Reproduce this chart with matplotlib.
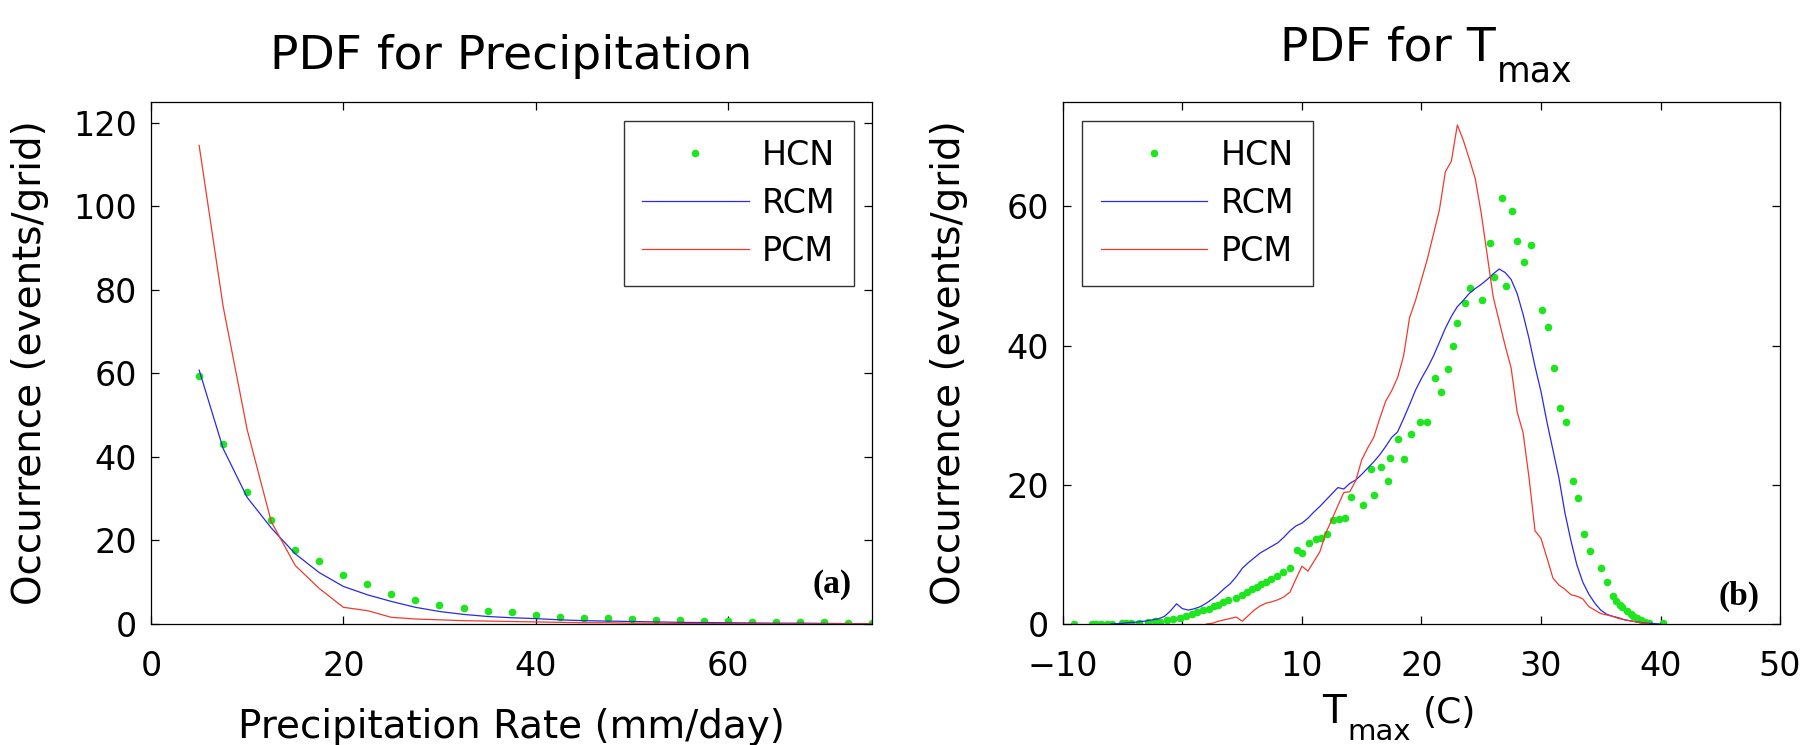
import matplotlib
matplotlib.use('Agg')
import matplotlib.pyplot as plt

# panel (a): precipitation
precip_rate = [5, 7.5, 10, 12.5, 15, 17.5, 20, 22.5, 25, 27.5, 30, 32.5, 35, 37.5, 40,
               42.5, 45, 47.5, 50, 52.5, 55, 57.5, 60, 62.5, 65, 67.5, 70, 72.5, 75]
precip_hcn = [59.5, 43.2, 31.6, 24.9, 17.8, 15.2, 11.7, 9.7, 7.3, 5.8, 4.5, 3.9, 3.2, 2.8, 2.2,
              1.7, 1.5, 1.4, 1.2, 1.0, 0.9, 0.8, 0.7, 0.6, 0.5, 0.5, 0.4, 0.3, 0.3]
precip_rcm = [60.8, 42.0, 30.3, 23.0, 16.8, 12.3, 9.0, 7.0, 5.4, 4.0, 3.0, 2.3, 1.8, 1.5, 1.3,
              1.0, 0.8, 0.7, 0.6, 0.5, 0.4, 0.35, 0.3, 0.25, 0.2, 0.2, 0.15, 0.1, 0.1]
precip_pcm = [114.6, 76.0, 46.5, 24.5, 14.0, 8.5, 4.0, 3.2, 1.6, 1.2, 1.0, 0.8, 0.7, 0.6, 0.5,
              0.4, 0.3, 0.3, 0.2, 0.2, 0.15, 0.1, 0.1, 0.1, 0.05, 0.05, 0.05, 0.05, 0.05]

# panel (b): Tmax
tmax_hcn_x = [-9.1, -7.6, -7.2, -6.8, -6.3, -5.9, -5.1, -4.7, -4.3, -3.6, -2.9, -2.3, -1.9,
              -1.3, -0.8, -0.2, 0.3, 0.8, 1.2, 1.7, 2.2, 2.6, 3.0, 3.4, 3.8, 4.5, 5.0, 5.4,
              5.8, 6.2, 6.6, 7.0, 7.4, 7.9, 8.4, 9.0, 9.6, 10.0, 10.6, 11.2, 11.6, 12.1, 12.6,
              13.1, 13.6, 14.1, 15.1, 15.8, 16.0, 16.6, 17.2, 17.4, 18.0, 18.5, 19.1, 19.9,
              20.5, 21.1, 21.6, 22.2, 22.6, 23.0, 23.6, 24.1, 25.1, 25.7, 26.1, 26.7, 27.1,
              27.6, 28.0, 28.6, 29.2, 30.1, 30.6, 31.1, 31.6, 32.1, 32.7, 33.1, 33.6, 34.1,
              35.0, 35.5, 36.0, 36.3, 36.6, 36.8, 37.2, 37.5, 37.7, 38.0, 38.4, 38.7, 39.0, 40.2]
tmax_hcn = [0.0, 0.0, 0.0, 0.0, 0.0, 0.0, 0.1, 0.1, 0.15, 0.15, 0.3, 0.4, 0.3,
            0.6, 0.7, 0.9, 1.1, 1.4, 1.7, 2.0, 2.2, 2.6, 2.8, 3.2, 3.5, 3.8, 4.2, 4.6,
            5.0, 5.3, 5.7, 6.1, 6.4, 6.9, 7.5, 8.1, 10.6, 10.2, 11.6, 12.2, 12.4, 12.9, 14.9,
            15.1, 15.3, 18.3, 17.1, 22.2, 18.5, 22.5, 20.5, 23.9, 26.6, 23.7, 27.3, 29.0,
            29.0, 35.4, 33.4, 36.6, 40.0, 43.3, 46.1, 48.3, 46.6, 54.7, 49.8, 61.2, 48.6,
            59.3, 55.1, 52.0, 54.4, 45.1, 42.7, 36.8, 31.1, 29.0, 20.5, 18.1, 12.9, 10.5,
            8.1, 6.0, 4.0, 3.3, 2.8, 2.5, 1.8, 1.4, 1.2, 0.9, 0.6, 0.3, 0.1, 0.1]

tmax_rcm_x = [-6, -5.5, -5, -4.5, -4, -3.5, -3, -2.5, -2, -1.5, -1, -0.5, 0, 0.5, 1, 1.5,
              2, 2.5, 3, 3.5, 4, 4.5, 5, 5.5, 6, 6.5, 7, 7.5, 8, 8.5, 9, 9.5, 10, 10.5,
              11, 11.5, 12, 12.5, 13, 13.5, 14, 14.5, 15, 15.5, 16, 16.5, 17, 17.5, 18, 18.5,
              19, 19.5, 20, 20.5, 21, 21.5, 22, 22.5, 23, 23.5, 24, 24.5, 25, 25.5, 26, 26.5,
              27, 27.5, 28, 28.5, 29, 29.5, 30, 30.5, 31, 31.5, 32, 32.5, 33, 33.5, 34, 34.5,
              35, 35.5, 36, 36.5, 37, 37.5, 38, 38.5, 39, 39.5, 40]
tmax_rcm = [0, 0.05, 0.1, 0.2, 0.25, 0.35, 0.45, 0.6, 0.75, 1.1, 1.9, 2.9, 2.2, 2.0, 2.2, 2.5,
            3.0, 3.6, 4.3, 5.1, 5.8, 6.8, 8.0, 8.8, 9.5, 10.2, 10.7, 11.2, 11.7, 12.5, 13.4, 14.1,
            14.5, 15.2, 16.1, 16.9, 17.8, 18.7, 19.6, 19.4, 20.2, 20.7, 21.5, 22.4, 23.3, 24.3,
            25.5, 26.8, 27.6, 29.5, 31.5, 33.6, 35.3, 36.8, 38.5, 40.5, 42.5, 44.2, 45.6, 46.5,
            47.5, 48.2, 48.8, 49.5, 50.3, 51.0, 50.5, 49.5, 47.5, 44.5, 41.0, 37.0, 33.4, 29.0,
            25.0, 21.0, 16.0, 12.0, 8.5, 6.0, 4.3, 3.0, 2.0, 1.4, 1.1, 0.9, 0.6, 0.45, 0.3, 0.2,
            0.1, 0.05, 0]

tmax_pcm_x = [2, 2.5, 3, 3.5, 4, 4.5, 5, 5.5, 6, 6.5, 7, 7.5, 8, 8.5, 9, 9.5, 10, 10.5,
              11, 11.5, 12, 12.5, 13, 13.5, 14, 14.5, 15, 15.5, 16, 16.5, 17, 17.5, 18, 18.5,
              19, 19.5, 20, 20.5, 21, 21.5, 22, 22.5, 23, 23.5, 24, 24.5, 25, 25.5, 26, 26.5,
              27, 27.5, 28, 28.5, 29, 29.5, 30, 30.5, 31, 31.5, 32, 32.5, 33, 33.5, 34, 34.5,
              35, 35.5, 36, 36.5, 37, 37.5, 38, 38.5, 39]
tmax_pcm = [0, 0.1, 0.4, 0.6, 0.8, 1.0, 0.4, 1.2, 2.0, 2.6, 3.0, 3.2, 3.5, 3.9, 4.6, 6.5, 8.3, 7.6,
            9.0, 10.4, 13.1, 15.0, 17.0, 18.9, 19.0, 20.6, 23.6, 25.3, 26.8, 29.5, 32.0, 33.5,
            35.4, 38.5, 44.0, 46.5, 49.5, 52.5, 56.0, 59.5, 65.0, 66.5, 71.7, 69.5, 66.8, 64.0,
            59.0, 53.0, 47.0, 43.5, 40.0, 36.8, 30.5, 27.5, 21.0, 13.4, 12.3, 9.5, 6.6, 5.6,
            5.0, 4.2, 4.0, 3.6, 2.5, 2.0, 1.5, 1.3, 1.1, 0.8, 0.6, 0.45, 0.3, 0.15, 0.05]

green = '#1ee61e'
blue = '#2a2ae0'
red = '#ee3b2e'

plt.rcParams['font.family'] = 'DejaVu Sans'

fig = plt.figure(figsize=(18.18, 7.45), dpi=100)
ax_a = fig.add_axes([0.0831, 0.1624, 0.3966, 0.7007])
ax_b = fig.add_axes([0.5847, 0.1624, 0.3944, 0.7007])


def style_axes(ax):
    ax.tick_params(direction='in', length=6, width=0.9, top=True, right=True,
                   labelsize=24, pad=10)
    ax.tick_params(axis='x', pad=19)
    for side in ax.spines.values():
        side.set_linewidth(0.9)


def add_legend(ax, loc, anchor):
    ax.legend(loc=loc, bbox_to_anchor=anchor, borderaxespad=0,
              fontsize=24, handlelength=3.2, handletextpad=0.4, labelspacing=0.45,
              borderpad=0.55, fancybox=False, edgecolor='#333333', framealpha=1)


def with_subscript(ax, x, y, main, sub, size, sub_size, drop):
    # matlab style T_{max}: big, low subscript right after the main text
    t = ax.text(x, y, main, transform=ax.transAxes, ha='right', va='baseline',
                fontsize=size, clip_on=False)
    ax.annotate(sub, xy=(1, 0), xycoords=t, xytext=(0.5, -drop),
                textcoords='offset points', ha='left', va='baseline', fontsize=sub_size)
    return t


ax_a.plot(precip_rate, precip_hcn, 'o', color=green, ms=5.5, mec='none', label='HCN')
ax_a.plot(precip_rate, precip_rcm, '-', color=blue, lw=0.9, label='RCM')
ax_a.plot(precip_rate, precip_pcm, '-', color=red, lw=0.9, label='PCM')
ax_a.set_xlim(0, 75)
ax_a.set_ylim(0, 125)
ax_a.set_xticks([0, 20, 40, 60])
ax_a.set_yticks([0, 20, 40, 60, 80, 100, 120])
style_axes(ax_a)
ax_a.set_title('PDF for Precipitation', fontsize=34, pad=24)
ax_a.set_xlabel('Precipitation Rate (mm/day)', fontsize=28)
ax_a.set_ylabel('Occurrence (events/grid)', fontsize=28)
ax_a.xaxis.set_label_coords(0.5, -0.16)
ax_a.yaxis.set_label_coords(-0.141, 0.5)
add_legend(ax_a, 'upper right', (0.975, 0.964))
ax_a.text(0.972, 0.075, '(a)', transform=ax_a.transAxes, ha='right', va='center',
          fontsize=24, fontweight='bold', family='Liberation Serif')

ax_b.plot(tmax_hcn_x, tmax_hcn, 'o', color=green, ms=5.5, mec='none', label='HCN')
ax_b.plot(tmax_rcm_x, tmax_rcm, '-', color=blue, lw=0.9, label='RCM')
ax_b.plot(tmax_pcm_x, tmax_pcm, '-', color=red, lw=0.9, label='PCM')
ax_b.set_xlim(-10, 50)
ax_b.set_ylim(0, 75)
ax_b.set_xticks([-10, 0, 10, 20, 30, 40, 50])
ax_b.set_yticks([0, 20, 40, 60])
style_axes(ax_b)
ax_b.set_ylabel('Occurrence (events/grid)', fontsize=28)
ax_b.yaxis.set_label_coords(-0.132, 0.5)

# title and x label with the low "max" subscript
with_subscript(ax_b, 0.604, 1.08, 'PDF for T', 'max', 34, 25, 8)
with_subscript(ax_b, 0.395, -0.19, 'T', 'max', 28, 21, 6)
ax_b.text(0.502, -0.19, '(C)', transform=ax_b.transAxes, ha='left', va='baseline',
          fontsize=26)

add_legend(ax_b, 'upper left', (0.027, 0.964))
ax_b.text(0.972, 0.052, '(b)', transform=ax_b.transAxes, ha='right', va='center',
          fontsize=24, fontweight='bold', family='Liberation Serif')

fig.savefig('out.png', dpi=100)
